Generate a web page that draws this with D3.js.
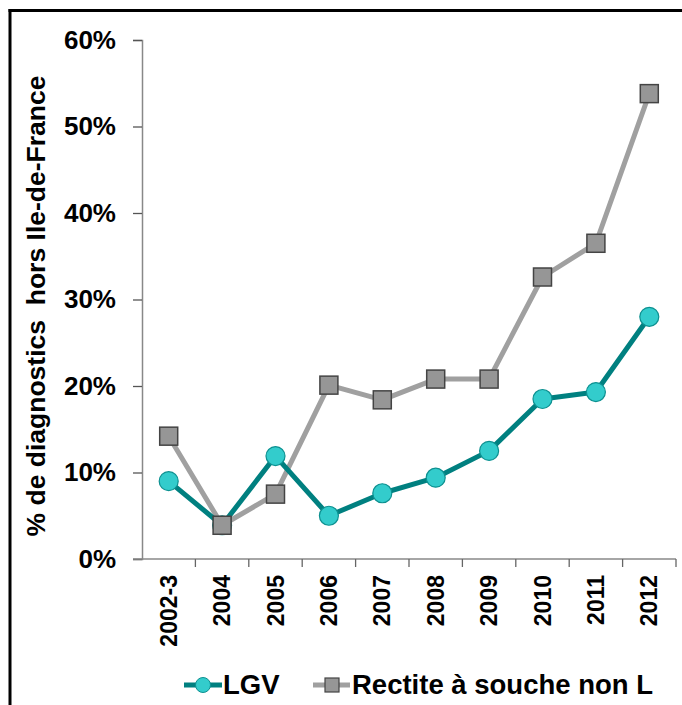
<!DOCTYPE html>
<html>
<head>
<meta charset="utf-8">
<script src="https://cdn.jsdelivr.net/npm/d3@7"></script>
<style>
  html, body { margin: 0; padding: 0; background: #fff; }
  svg { display: block; font-family: "Liberation Sans", Arial, sans-serif; font-weight: bold; }
</style>
</head>
<body>
<svg id="chart" width="682" height="705"></svg>
<script>
// Years of diagnosis
const categories = ["2002-3", "2004", "2005", "2006", "2007", "2008", "2009", "2010", "2011", "2012"];
// Share of diagnoses made outside Ile-de-France (%)
const lgvValues = [9.0, 3.9, 11.9, 5.0, 7.6, 9.4, 12.5, 18.5, 19.3, 28.0];
const rectiteValues = [14.2, 3.9, 7.5, 20.1, 18.4, 20.8, 20.8, 32.6, 36.5, 53.8];
const yTicks = [0, 10, 20, 30, 40, 50, 60];
const seriesNames = ["LGV", "Rectite à souche non L"];

const svg = d3.select("#chart");

// Frame
svg.append("line").attr("x1", 8.5).attr("x2", 682).attr("y1", 10.5).attr("y2", 10.5)
  .attr("stroke", "#000").attr("stroke-width", 3);
svg.append("line").attr("x1", 10).attr("x2", 10).attr("y1", 9).attr("y2", 705)
  .attr("stroke", "#000").attr("stroke-width", 3);

const x = d3.scaleBand().domain(categories).range([142, 676]);
const y = d3.scaleLinear().domain([0, 60]).range([559, 40]);
const cx = d => x(d) + x.bandwidth() / 2;

// Y axis
const yAxis = svg.append("g").attr("transform", "translate(142,0)")
  .call(d3.axisLeft(y).tickValues(yTicks).tickFormat(d => d + "%").tickSize(9).tickPadding(17));
yAxis.select(".domain").attr("stroke", "#888").attr("stroke-width", 1.5);
yAxis.selectAll(".tick line").attr("stroke", "#555").attr("stroke-width", 1.3);
yAxis.selectAll(".tick text").attr("font-size", 26).attr("font-family", "Liberation Sans, Arial, sans-serif")
  .attr("font-weight", "bold").attr("fill", "#000");

// X axis: ticks on category boundaries
const xAxisG = svg.append("g");
xAxisG.append("line").attr("x1", 133).attr("x2", 676).attr("y1", y(0)).attr("y2", y(0))
  .attr("stroke", "#888").attr("stroke-width", 1.5);
const boundaries = categories.map(c => x(c)).concat([x(categories[categories.length - 1]) + x.bandwidth()]);
xAxisG.selectAll("line.bt").data(boundaries.slice(1)).join("line").attr("class", "bt")
  .attr("x1", d => d).attr("x2", d => d).attr("y1", y(0)).attr("y2", y(0) + 8)
  .attr("stroke", "#666").attr("stroke-width", 1.3);
xAxisG.selectAll("text").data(categories).join("text")
  .attr("transform", d => `translate(${cx(d) + 8},575) rotate(-90)`)
  .attr("text-anchor", "end")
  .attr("font-size", 23).attr("fill", "#000")
  .text(d => d);

// Y axis title
svg.append("text")
  .attr("transform", "translate(45,306) rotate(-90)")
  .attr("text-anchor", "middle")
  .attr("font-size", 26.5).attr("fill", "#000")
  .attr("xml:space", "preserve")
  .text("% de diagnostics  hors Ile-de-France");

const line = d3.line().x((d, i) => cx(categories[i])).y(d => y(d));

// Rectite series (grey, squares)
svg.append("path").datum(rectiteValues).attr("d", line)
  .attr("fill", "none").attr("stroke", "#a0a0a0").attr("stroke-width", 5).attr("stroke-linejoin", "round");
// LGV series (teal, circles)
svg.append("path").datum(lgvValues).attr("d", line)
  .attr("fill", "none").attr("stroke", "#008080").attr("stroke-width", 5).attr("stroke-linejoin", "round");

svg.selectAll("circle.lgv").data(lgvValues).join("circle").attr("class", "lgv")
  .attr("cx", (d, i) => cx(categories[i])).attr("cy", d => y(d)).attr("r", 9.5)
  .attr("fill", "#33cccc").attr("stroke", "#0d9090").attr("stroke-width", 1.2);
svg.selectAll("rect.rec").data(rectiteValues).join("rect").attr("class", "rec")
  .attr("x", (d, i) => cx(categories[i]) - 9).attr("y", d => y(d) - 9)
  .attr("width", 18).attr("height", 18)
  .attr("fill", "#969696").attr("stroke", "#444").attr("stroke-width", 1.5);

// Legend
const lg = svg.append("g");
lg.append("line").attr("x1", 184).attr("x2", 222).attr("y1", 685).attr("y2", 685)
  .attr("stroke", "#008080").attr("stroke-width", 5);
lg.append("circle").attr("cx", 203).attr("cy", 685).attr("r", 7.5)
  .attr("fill", "#33cccc").attr("stroke", "#0d9090").attr("stroke-width", 1);
lg.append("text").attr("x", 223).attr("y", 694).attr("font-size", 27.5).attr("fill", "#000").text(seriesNames[0]);
lg.append("line").attr("x1", 313).attr("x2", 350).attr("y1", 685).attr("y2", 685)
  .attr("stroke", "#a0a0a0").attr("stroke-width", 5);
lg.append("rect").attr("x", 325).attr("y", 678).attr("width", 14).attr("height", 14)
  .attr("fill", "#969696").attr("stroke", "#444").attr("stroke-width", 1.2);
lg.append("text").attr("x", 352).attr("y", 694).attr("font-size", 27.5).attr("fill", "#000").text(seriesNames[1]);
</script>
</body>
</html>
